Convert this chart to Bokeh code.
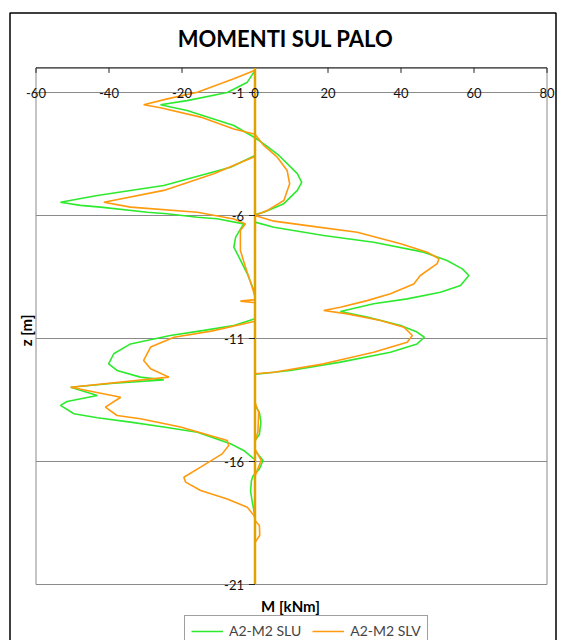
from bokeh.plotting import figure
from bokeh.models import Range1d, Label, Legend, LegendItem
from bokeh.core.properties import value
from bokeh.embed import file_html
from bokeh.resources import INLINE
from math import pi

# ---------------- data ----------------
x_ticks = [-60, -40, -20, 0, 20, 40, 60, 80]
z_ticks = [-1, -6, -11, -16, -21]
z_top = 0

# A2-M2 SLU (M [kNm], z [m])
slu_z = [-0.1, -0.58, -1.0, -1.33, -1.5, -1.73, -2.34, -2.84,
         -3.09, -3.55, -4.3, -4.65, -4.98, -5.52, -5.87, -5.96,
         -3.56, -4.04, -4.78, -5.19, -5.46, -5.59, -5.66, -5.87, -5.93, -6.07, -6.13, -6.34, -6.88, -7.29, -7.69, -8.37, -9.05, -9.3,
         -6.27, -6.48, -6.81, -7.09, -7.49, -7.83, -8.17, -8.44, -8.85, -9.12, -9.39, -9.59, -9.9, -10.13, -10.47, -10.74, -10.95, -11.22, -11.56, -11.96, -12.3, -12.43, -12.45,
         -10.2, -10.47, -10.67, -10.88, -11.22, -11.62, -12.03, -12.3, -12.57, -12.68, -12.82, -12.98, -13.32, -13.56, -13.72, -14.06, -14.22, -14.4, -14.6, -14.81, -15.28, -15.55, -15.89, -15.9,
         -13.7, -14.0, -14.4, -14.9, -15.15, -15.55, -15.96, -16.3, -16.6, -16.8, -17.2, -17.6, -18.0, -18.4, -21.0]
slu_m = [0, -2.1, -7.6, -18.6, -25.9, -18.6, -5.8, 0,
         2.4, 6.5, 11.6, 12.8, 11.6, 7.9, 2.4, 0,
         0, -6.7, -25, -43.2, -53.3, -47.8, -42.3, -29.5, -24.1, -15.8, -10.4, -3.1, -5.3, -5.8, -4.4, -2.1, -0.3, 0,
         0, 5.2, 18.8, 32.5, 46.2, 52.6, 56.8, 58.6, 56.3, 50.8, 41.7, 32.5, 23.4, 30.7, 39.9, 44.4, 46.4, 44.4, 37.1, 23.4, 9.7, 1.5, 0,
         0, -5.8, -14, -23.2, -34.1, -38.7, -40.1, -37.8, -31.4, -25, -38.7, -50.5, -43.2, -51.5, -53.3, -49.6, -43.2, -34.1, -25, -15.8, -6.7, -3.1, -0.3, 0,
         0, 1.2, 1.6, 1.2, 0, 0, 2.2, 1.2, -0.6, -1.0, -1.2, -0.8, -0.3, 0, 0]

# A2-M2 SLV (M [kNm], z [m])
slv_z = [-0.1, -0.44, -0.99, -1.26, -1.5, -1.62, -2.0, -2.48, -2.7,
         -3.15, -3.63, -4.17, -4.71, -5.39, -5.8, -6.0,
         -3.6, -4.3, -4.98, -5.46, -5.66, -5.87, -6.14, -6.34, -6.61, -7.42, -8.1, -8.91, -9.3, -9.42, -9.48, -9.55,
         -6.0, -6.23, -6.41, -6.68, -7.15, -7.49, -7.76, -7.96, -8.44, -8.78, -9.18, -9.46, -9.73, -9.86, -10.0, -10.27, -10.54, -10.88, -11.15, -11.56, -12.03, -12.37, -12.43,
         -10.3, -10.7, -10.95, -11.35, -11.89, -12.23, -12.57, -12.98, -13.39, -13.79, -14.13, -14.26, -14.6, -15.15, -15.35, -15.69, -16.23, -16.64, -16.84, -17.18, -17.52, -17.86, -18.2, -18.3,
         -13.6, -14.0, -14.8, -15.2, -15.5, -15.95, -16.4, -16.6, -18.4, -18.6, -19.0, -19.3, -21.0]
slv_m = [0, -5.8, -15.8, -24, -30.5, -25.9, -14.9, -5.8, 0,
         2.4, 6.1, 8.8, 9.5, 7.9, 3.3, 0,
         0, -11.3, -25, -41.4, -34.1, -15.8, -5.8, -2.6, -4, -4, -2.6, -0.8, 0, 0, -4, 0,
         0, 5.2, 14.3, 28, 39.9, 47.2, 50.4, 49.9, 45.3, 43.5, 37.1, 30.7, 23.4, 18.8, 25.3, 34.4, 40.8, 43.1, 41.7, 32.5, 18.8, 5.2, 0,
         0, -12, -22.2, -28.6, -30.5, -28.6, -23.6, -50.5, -36.8, -41, -37.8, -31.4, -20.4, -7.6, -7.2, -9, -14.9, -19.5, -19, -14.9, -7.6, -2.1, -0.3, 0,
         0, 1.0, 0.8, 0, 0, 1.7, 0.5, 0, 0, 1.2, 1.3, 0, 0]

# pile axis line
pile_m = [0, 0]
pile_z = [0, -21]

# ---------------- layout / style ----------------
W, H = 561, 640
PLOT_LEFT, PLOT_TOP = 35.5, 67.4        # px position of the plot area in the canvas
PX_M, PX_Z = 3.65, 24.6                 # px per kNm, px per m

x_min, x_max = x_ticks[0], x_ticks[-1]
z_bot = z_ticks[-1]


def fx(px):
    return x_min + (px - PLOT_LEFT) / PX_M


def fy(py):
    return z_top - (py - PLOT_TOP) / PX_Z


FONT = "Lato"
GREEN = "#2EEA2E"
ORANGE = "#FF9A0E"
GOLD = "#E0A200"
GRID = "#8A8A8A"
DARK = "#222222"

p = figure(width=W, height=H, output_backend="svg", toolbar_location=None,
           x_range=Range1d(fx(0), fx(W)), y_range=Range1d(fy(H), fy(0)),
           x_axis_location=None, y_axis_location=None,
           min_border=0, min_border_left=0, min_border_right=0,
           min_border_top=0, min_border_bottom=0)
p.background_fill_color = "white"
p.border_fill_color = "white"
p.outline_line_color = None
p.grid.visible = False

# outer chart border
p.quad(left=[fx(9.5)], right=[fx(555.5)], top=[fy(12.5)], bottom=[fy(H + 40)],
       fill_color=None, line_color="black", line_width=1.5)

# plot area frame + horizontal grid lines
p.quad(left=[x_min], right=[x_max], top=[z_top], bottom=[z_bot],
       fill_color=None, line_color=GRID, line_width=1)
p.segment(x0=[x_min] * len(z_ticks), x1=[x_max] * len(z_ticks), y0=z_ticks, y1=z_ticks,
          line_color=GRID, line_width=1)
# top axis line with inward tick marks
p.segment(x0=[x_min], x1=[x_max], y0=[z_top], y1=[z_top], line_color=DARK, line_width=1)
p.segment(x0=x_ticks, x1=x_ticks, y0=[z_top] * len(x_ticks),
          y1=[z_top - 5 / PX_Z] * len(x_ticks), line_color=DARK, line_width=1)

# series
r_slu = p.line(slu_m, slu_z, line_color=GREEN, line_width=1.6)
r_slv = p.line(slv_m, slv_z, line_color=ORANGE, line_width=1.6)
p.line(pile_m, pile_z, line_color=GOLD, line_width=2.5)

# vertical-axis tick marks and labels at M = 0
p.segment(x0=[-6 / PX_M] * len(z_ticks), x1=[0] * len(z_ticks), y0=z_ticks, y1=z_ticks,
          line_color=DARK, line_width=1)
p.text(x=[0] * len(z_ticks), y=z_ticks, text=[str(v) for v in z_ticks], x_offset=-11,
       text_align="right", text_baseline="middle", text_font=value(FONT),
       text_font_size="13px", text_color="#111111")

# horizontal-axis labels along z = -1
p.text(x=x_ticks, y=[z_ticks[0]] * len(x_ticks), text=[str(v) for v in x_ticks],
       text_align="center", text_baseline="middle", text_font=value(FONT),
       text_font_size="13px", text_color="#111111")

# title and axis titles
p.add_layout(Label(x=fx(285), y=fy(38), text="MOMENTI SUL PALO", text_align="center",
                   text_baseline="middle", text_font=FONT, text_font_style="bold",
                   text_font_size="22px", text_color="black"))
p.add_layout(Label(x=fx(25), y=fy(330), text="z [m]", angle=pi / 2, text_align="center",
                   text_baseline="middle", text_font=FONT, text_font_style="bold",
                   text_font_size="15px", text_color="black"))
p.add_layout(Label(x=fx(290), y=fy(605), text="M [kNm]", text_align="center",
                   text_baseline="middle", text_font=FONT, text_font_style="bold",
                   text_font_size="15px", text_color="black"))

legend = Legend(items=[LegendItem(label="A2-M2 SLU", renderers=[r_slu]),
                       LegendItem(label="A2-M2 SLV", renderers=[r_slv])],
                orientation="horizontal", location=(184, -6),
                padding=6, margin=0, spacing=11, glyph_width=32, glyph_height=14,
                label_standoff=6, label_text_font=FONT, label_text_font_size="14px",
                label_height=14,
                border_line_color="#404040", border_line_width=1,
                background_fill_color="white", background_fill_alpha=1)
p.add_layout(legend, "center")

open("out.html", "w").write(file_html(p, INLINE))
